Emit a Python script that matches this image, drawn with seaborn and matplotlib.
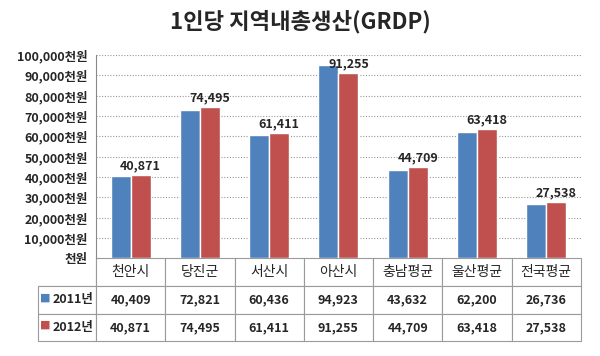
import pandas as pd
import matplotlib.pyplot as plt
import seaborn as sns

regions = ["천안시", "당진군", "서산시", "아산시", "충남평균", "울산평균", "전국평균"]
years = ["2011년", "2012년"]
grdp_2011 = [40409, 72821, 60436, 94923, 43632, 62200, 26736]
grdp_2012 = [40871, 74495, 61411, 91255, 44709, 63418, 27538]
colors = ["#4F81BD", "#C0504D"]
yticks = list(range(0, 100001, 10000))


def won_label(v):
    return "천원" if v == 0 else f"{v:,}천원"


def main():
    sns.set_style("white")
    plt.rcParams["font.family"] = ["Noto Sans CJK KR", "DejaVu Sans"]

    df = pd.DataFrame({
        "region": regions * 2,
        "year": [years[0]] * len(regions) + [years[1]] * len(regions),
        "value": grdp_2011 + grdp_2012,
    })

    fig = plt.figure(figsize=(6, 3.56), dpi=100)
    ax = fig.add_axes([0.16, 0.275, 0.808, 0.57])

    sns.barplot(data=df, x="region", y="value", hue="year", order=regions,
                hue_order=years, palette=colors, width=0.58, saturation=1,
                legend=False, ax=ax)

    # only 2012 values get a data label
    ax.bar_label(ax.containers[1], labels=[f"{v:,}" for v in grdp_2012],
                 padding=2, fontsize=9, fontweight="bold")

    ax.set_ylim(0, 100000)
    ax.set_xlim(-0.5, len(regions) - 0.5)
    ax.set_yticks(yticks)
    ax.set_yticklabels([won_label(v) for v in yticks], fontsize=9,
                       fontweight="bold")
    ax.tick_params(axis="y", length=0, pad=6)
    ax.set_xticks([])
    ax.set_xlabel("")
    ax.set_ylabel("")
    for y in yticks[1:]:
        ax.axhline(y, color="#999999", lw=0.8, ls=(0, (1, 1.5)), zorder=0)
    for s in ["top", "right", "bottom"]:
        ax.spines[s].set_visible(False)
    ax.spines["left"].set_color("#888888")

    # data table under the plot
    first_w = 0.1196
    cell_text = [[""] + regions,
                 [years[0]] + [f"{v:,}" for v in grdp_2011],
                 [years[1]] + [f"{v:,}" for v in grdp_2012]]
    tbl = ax.table(cellText=cell_text, cellLoc="center",
                   colWidths=[first_w] + [1 / len(regions)] * len(regions),
                   bbox=[-first_w, -0.41, 1 + first_w, 0.41])
    tbl.auto_set_font_size(False)
    for (r, c), cell in tbl.get_celld().items():
        cell.set_edgecolor("#9a9a9a")
        cell.set_linewidth(0.8)
        txt = cell.get_text()
        if r == 0:
            txt.set_fontsize(10)
        else:
            txt.set_fontsize(9)
            txt.set_fontweight("bold")
        if r == 0 and c == 0:
            cell.visible_edges = "BR"
        if c == 0 and r > 0:
            txt.set_ha("right")
            cell.PAD = 0.04

    # legend keys in the row label cells
    row_h = 0.41 / 3
    for i, col in enumerate(colors):
        yc = -row_h * (i + 1.5)
        ax.text(-first_w + 0.004, yc + 0.012, "■", color=col, fontsize=8,
                ha="left", va="center", transform=ax.transAxes,
                family=["DejaVu Sans"])

    fig.text(0.5, 0.94, "1인당 지역내총생산(GRDP)", ha="center", va="center",
             fontsize=16, fontweight="bold")

    fig.savefig("out.png", dpi=100)
    plt.close(fig)


if __name__ == "__main__":
    main()
